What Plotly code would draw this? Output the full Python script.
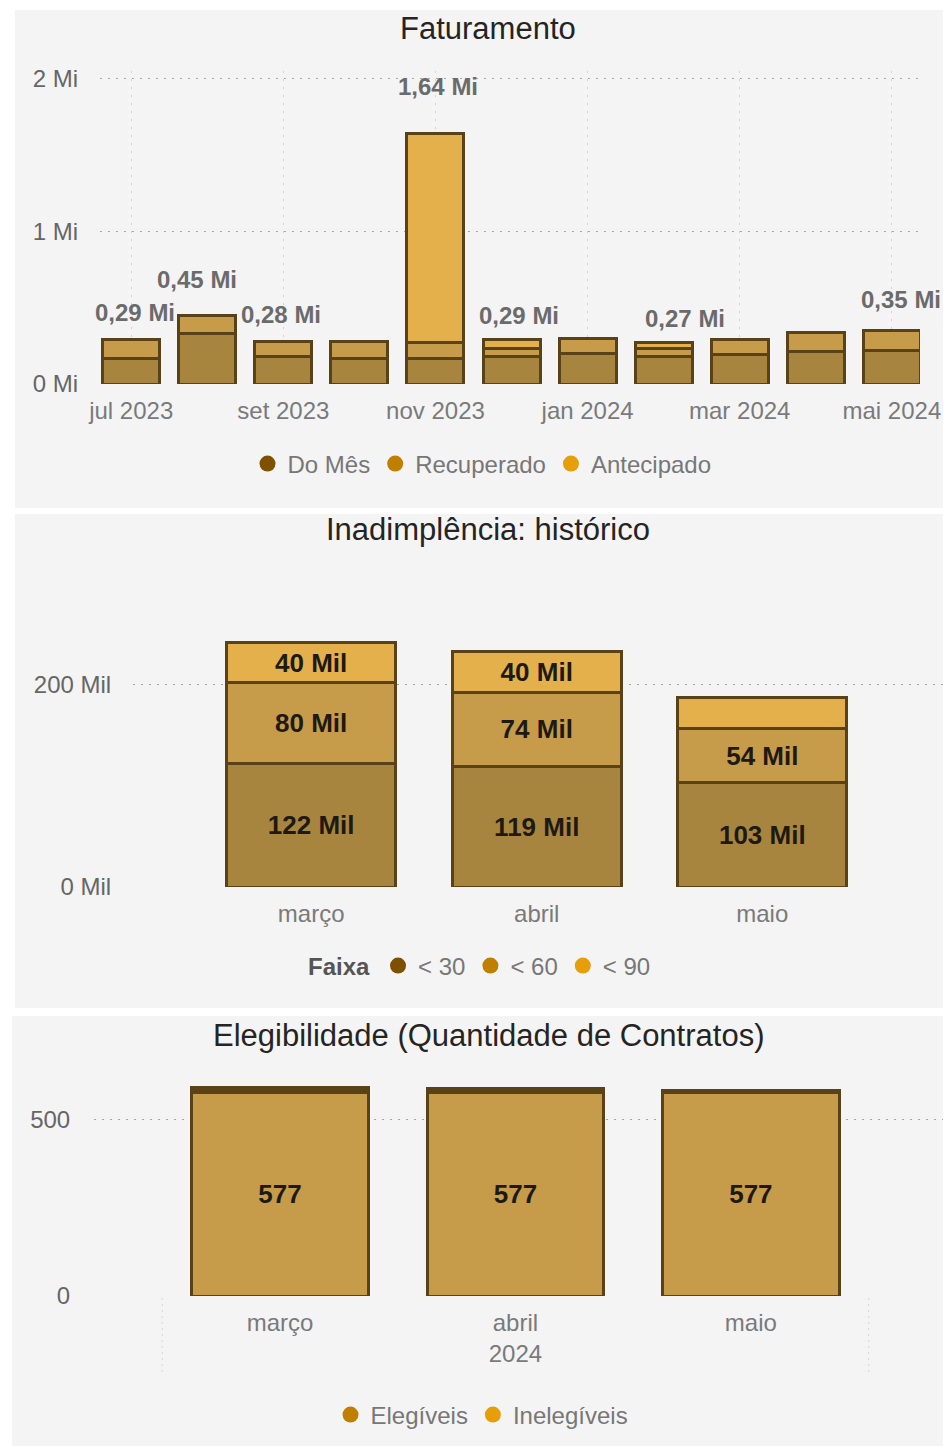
import plotly.graph_objects as go

# ---------------- Faturamento (valores em milhões) ----------------
meses = ["jul 2023", "ago 2023", "set 2023", "out 2023", "nov 2023", "dez 2023",
         "jan 2024", "fev 2024", "mar 2024", "abr 2024", "mai 2024"]
do_mes = [0.17, 0.33, 0.18, 0.17, 0.17, 0.18, 0.20, 0.18, 0.19, 0.21, 0.22]
recuperado = [0.12, 0.12, 0.10, 0.11, 0.10, 0.05, 0.10, 0.05, 0.10, 0.13, 0.13]
antecipado = [0.00, 0.00, 0.00, 0.00, 1.37, 0.06, 0.00, 0.04, 0.00, 0.00, 0.00]
rotulos_total = ["0,29 Mi", "0,45 Mi", "0,28 Mi", "", "1,64 Mi", "0,29 Mi",
                 "", "0,27 Mi", "", "", "0,35 Mi"]
ticks_fat = ["jul 2023", "set 2023", "nov 2023", "jan 2024", "mar 2024", "mai 2024"]
yticks_fat = [0, 1, 2]
ytext_fat = ["0 Mi", "1 Mi", "2 Mi"]

# ---------------- Inadimplência (valores em mil) ----------------
meses_inad = ["março", "abril", "maio"]
faixa30 = [122, 119, 103]
faixa60 = [80, 74, 54]
faixa90 = [40, 40, 31]
txt30 = ["122 Mil", "119 Mil", "103 Mil"]
txt60 = ["80 Mil", "74 Mil", "54 Mil"]
txt90 = ["40 Mil", "40 Mil", ""]
yticks_inad = [0, 200]
ytext_inad = ["0 Mil", "200 Mil"]

# ---------------- Elegibilidade ----------------
ano = "2024"
meses_eleg = ["março", "abril", "maio"]
elegiveis = [577, 577, 577]
inelegiveis = [14, 12, 8]
yticks_eleg = [0, 500]

# label placement offsets (px) for the total labels of the top chart
rot_dx = [4, -10, -2, 0, 3, 7, 0, 21, 0, 0, 9]
rot_dy = [12, 20, 11, 0, 32, 9, 0, 9, 0, 0, 16]

FONT = "Liberation Sans, Arial, sans-serif"
W, H = 951, 1448
OFF = 8  # page body margin
C_DOMES = "#a8853f"
C_REC = "#c69b49"
C_ANT = "#e3b04b"
C_LINE = "#5a4218"
LEG1, LEG2, LEG3 = "#7d5100", "#c07f00", "#e69e0a"


def px_x(p):
    return (p - OFF) / W


def px_y(p):
    return 1 - (p - OFF) / H


fig = go.Figure()

line = dict(color=C_LINE, width=3)

# --- top chart bars
for name, vals, col in [("Do Mês", do_mes, C_DOMES), ("Recuperado", recuperado, C_REC),
                        ("Antecipado", antecipado, C_ANT)]:
    fig.add_trace(go.Bar(x=meses, y=vals, name=name, marker=dict(color=col, line=line),
                         showlegend=False, xaxis="x", yaxis="y"))
for name, col in [("Do Mês", LEG1), ("Recuperado", LEG2), ("Antecipado", LEG3)]:
    fig.add_trace(go.Scatter(x=[None], y=[None], mode="markers", name=name,
                             marker=dict(symbol="circle", size=16, color=col),
                             legend="legend", xaxis="x", yaxis="y"))

totais = [a + b + c for a, b, c in zip(do_mes, recuperado, antecipado)]
for m, t, lab, dx, dy in zip(meses, totais, rotulos_total, rot_dx, rot_dy):
    if lab:
        fig.add_annotation(x=m, y=t, xref="x", yref="y", text=lab, showarrow=False,
                           yanchor="bottom", yshift=dy, xshift=dx,
                           font=dict(family=FONT, size=24, color="#6b6b6b", weight="bold"))

# --- middle chart bars
txtfont = dict(family=FONT, size=26, color="#1e1a12", weight="bold")
for name, vals, txt, col in [("< 30", faixa30, txt30, C_DOMES), ("< 60", faixa60, txt60, C_REC),
                             ("< 90", faixa90, txt90, C_ANT)]:
    fig.add_trace(go.Bar(x=meses_inad, y=vals, name=name, text=txt, textposition="inside",
                         insidetextanchor="middle", textangle=0, textfont=txtfont,
                         marker=dict(color=col, line=line), showlegend=False,
                         xaxis="x2", yaxis="y2"))
for name, col in [("< 30", LEG1), ("< 60", LEG2), ("< 90", LEG3)]:
    fig.add_trace(go.Scatter(x=[None], y=[None], mode="markers", name=name,
                             marker=dict(symbol="circle", size=16, color=col),
                             legend="legend2", xaxis="x2", yaxis="y2"))

# --- bottom chart bars
fig.add_trace(go.Bar(x=meses_eleg, y=elegiveis, name="Elegíveis",
                     text=[str(v) for v in elegiveis], textposition="inside",
                     insidetextanchor="middle", textangle=0, textfont=txtfont,
                     marker=dict(color=C_REC, line=line), showlegend=False,
                     xaxis="x3", yaxis="y3"))
fig.add_trace(go.Bar(x=meses_eleg, y=inelegiveis, name="Inelegíveis",
                     marker=dict(color=C_LINE, line=line), showlegend=False,
                     xaxis="x3", yaxis="y3"))
for name, col in [("Elegíveis", LEG2), ("Inelegíveis", LEG3)]:
    fig.add_trace(go.Scatter(x=[None], y=[None], mode="markers", name=name,
                             marker=dict(symbol="circle", size=16, color=col),
                             legend="legend3", xaxis="x3", yaxis="y3"))

# two-level labels: year shown under the middle month
meio = len(meses_eleg) // 2
ticktext_eleg = [m + ("<br>" + ano if i == meio else "") for i, m in enumerate(meses_eleg)]

tickfont_x = dict(family=FONT, size=24, color="#7a7a7a")
tickfont_y = dict(family=FONT, size=24, color="#666666")
hgrid = dict(showgrid=True, gridcolor="#a6a6a6", griddash="2px,6px", gridwidth=1,
             zeroline=False, showline=False, ticks="outside", automargin=False,
             tickcolor="rgba(0,0,0,0)", tickfont=tickfont_y)
xbase = dict(zeroline=False, showline=False, ticks="outside", automargin=False,
             tickcolor="rgba(0,0,0,0)", tickfont=tickfont_x)

# panels
panels = [(15, 945, 10, 508), (15, 951, 514, 1008), (12, 951, 1016, 1446)]
shapes = [dict(type="rect", xref="paper", yref="paper", x0=px_x(a), x1=px_x(b),
               y0=px_y(d), y1=px_y(c), fillcolor="#f4f4f4", line=dict(width=0),
               layer="below") for a, b, c, d in panels]
# year group dividers below the bottom axis
for xd in (-0.5, len(meses_eleg) - 0.5):
    shapes.append(dict(type="line", xref="x3", yref="paper", x0=xd, x1=xd,
                       y0=px_y(1372), y1=px_y(1298),
                       line=dict(color="#d6d6d6", width=1, dash="2px,4px")))

titles = [("Faturamento", 28), ("Inadimplência: histórico", 530),
          ("Elegibilidade (Quantidade de Contratos)", 1035)]
for t, yp in titles:
    fig.add_annotation(x=px_x(488), y=px_y(yp), xref="paper", yref="paper", text=t,
                       showarrow=False, xanchor="center", yanchor="middle",
                       font=dict(family=FONT, size=31, color="#252423"))

legfont = dict(family=FONT, size=24, color="#777777")
legbase = dict(orientation="h", xanchor="center", yanchor="middle", font=legfont,
               xref="container", yref="container",
               bgcolor="rgba(0,0,0,0)", itemwidth=30, traceorder="normal",
               itemclick=False, itemdoubleclick=False)

fig.update_layout(
    width=W, height=H, margin=dict(l=0, r=0, t=0, b=0, autoexpand=False),
    paper_bgcolor="white", plot_bgcolor="rgba(0,0,0,0)",
    barmode="stack", bargap=0.25, font=dict(family=FONT),
    shapes=shapes,
    xaxis=dict(domain=[px_x(100), px_x(920)], anchor="y", type="category",
               range=[-0.41, 10.37], tickvals=ticks_fat, ticktext=ticks_fat,
               showgrid=True, gridcolor="#d2d2d2", griddash="2px,6px", ticklen=5, **xbase),
    yaxis=dict(domain=[px_y(384), px_y(71)], anchor="x", range=[0, 2.05],
               tickvals=yticks_fat, ticktext=ytext_fat, ticklen=16, **hgrid),
    xaxis2=dict(domain=[px_x(133), px_x(945)], anchor="y2", type="category",
                range=[-0.79, 2.81], showgrid=False, ticklen=5, **xbase),
    yaxis2=dict(domain=[px_y(887), px_y(589)], anchor="x2", range=[0, 295],
                tickvals=yticks_inad, ticktext=ytext_inad, ticklen=16, **hgrid),
    xaxis3=dict(domain=[px_x(94), px_x(951)], anchor="y3", type="category",
                range=[-0.79, 2.85], showgrid=False, ticklen=5,
                tickvals=meses_eleg, ticktext=ticktext_eleg, **xbase),
    yaxis3=dict(domain=[px_y(1296), px_y(1070)], anchor="x3", range=[0, 642],
                tickvals=yticks_eleg, ticktext=[str(v) for v in yticks_eleg], ticklen=18, **hgrid),
    legend=dict(x=px_x(482), y=px_y(464), **legbase),
    legend2=dict(x=px_x(481), y=px_y(966),
                 title=dict(text="Faixa", side="left",
                            font=dict(family=FONT, size=24, color="#555555", weight="bold")),
                 **legbase),
    legend3=dict(x=px_x(482), y=px_y(1415), **legbase),
    uniformtext=dict(minsize=26, mode="show"),
)

fig.write_html("out.html")
